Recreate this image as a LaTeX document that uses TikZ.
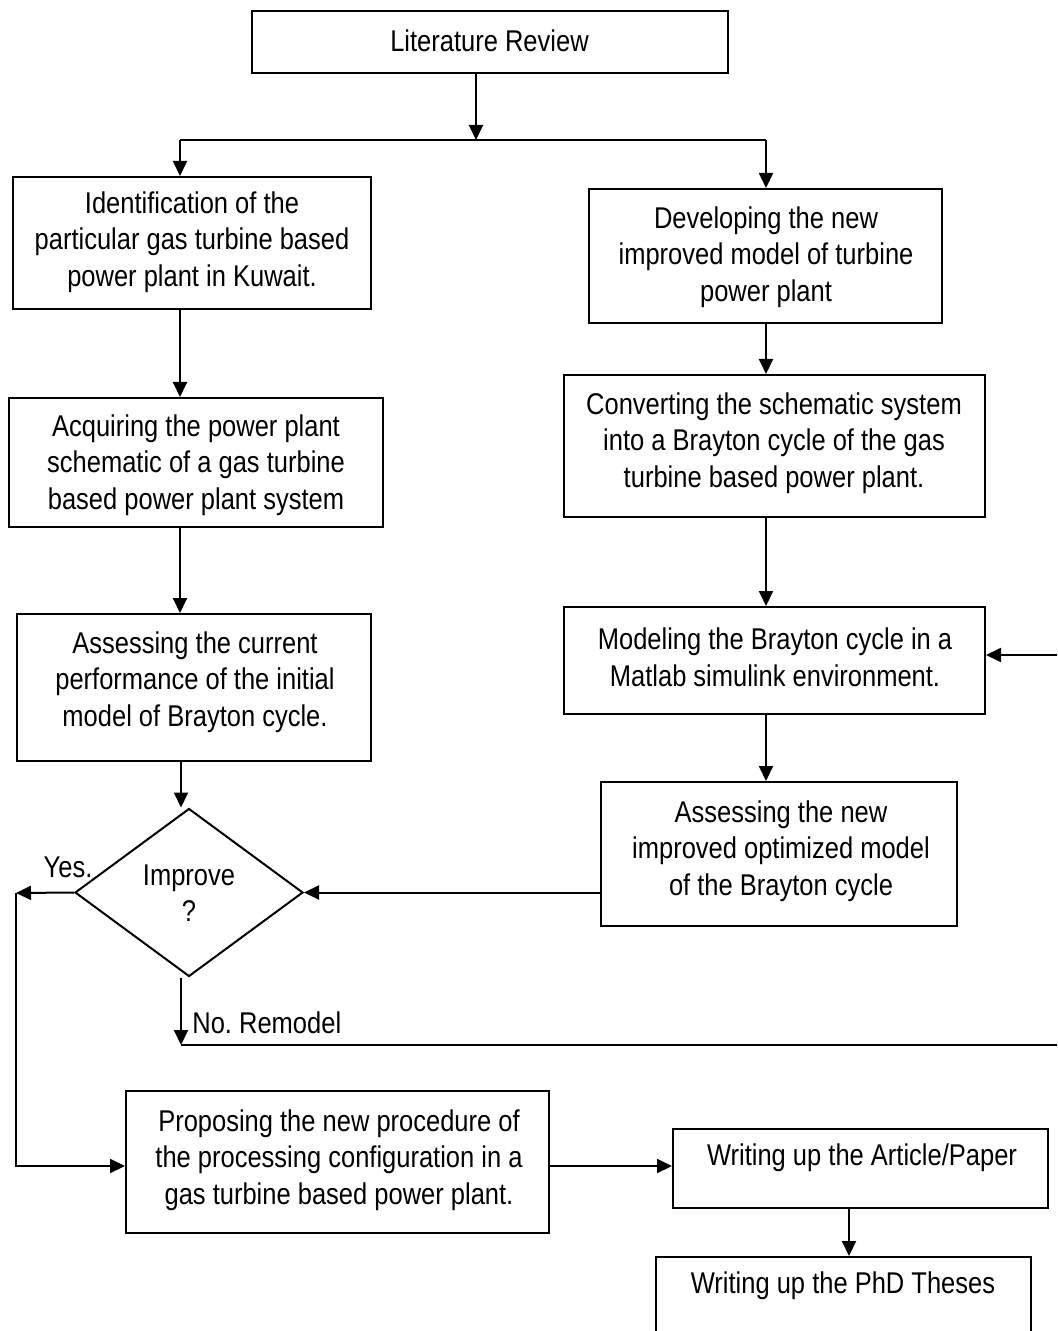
\documentclass[tikz,border=0pt]{standalone}
\usepackage{fontspec}
\setmainfont[FakeStretch=0.85]{Liberation Sans}
\usetikzlibrary{arrows.meta,shapes.geometric,calc}
\frenchspacing
\tikzset{
  box/.style={draw=black, line width=1pt, rectangle, inner sep=0pt},
  txt/.style={align=center, inner sep=0pt, yshift=-1.5pt, font=\frenchspacing\fontsize{15pt}{18.3pt}\selectfont},
  arr/.style={line width=1pt, -{Triangle[length=7.5pt,width=7pt]}},
  ln/.style={line width=1pt}
}
\begin{document}
\begin{tikzpicture}[x=0.5pt, y=-0.5pt]
\useasboundingbox (0,0) rectangle (1057,1331);
\fill[white] (0,0) rectangle (1057,1331);
\clip (0,0) rectangle (1057,1331);

% boxes
\node[box, minimum width=238pt, minimum height=31pt] (lit) at (490,42) {};
\node[box, minimum width=179pt, minimum height=66pt] (id) at (192,243) {};
\node[box, minimum width=176.5pt, minimum height=67pt] (dev) at (765.5,256) {};
\node[box, minimum width=187pt, minimum height=64.5pt] (acq) at (196,462.5) {};
\node[box, minimum width=177pt, minimum height=73.5pt] (asc) at (194,687.5) {};
\node[box, minimum width=210.5pt, minimum height=71pt] (conv) at (774.5,446) {};
\node[box, minimum width=210.5pt, minimum height=53.5pt] (mod) at (774.5,660.5) {};
\node[box, minimum width=178pt, minimum height=72pt] (ass) at (779,854) {};
\node[draw=black, line width=1pt, diamond, inner sep=0pt, minimum width=114pt, minimum height=84pt] (dia) at (189,892.5) {};
\node[box, minimum width=211.5pt, minimum height=71pt] (prop) at (337.5,1162) {};
\node[box, minimum width=187.5pt, minimum height=39.5pt] (w1) at (860.5,1168.5) {};
\node[box, minimum width=187.5pt, minimum height=50pt] (w2) at (843.5,1307) {};

% texts
\node[txt] (litT) at (489.5,38) {Literature Review};
\node[txt] (idT) at (192,239) {Identification of the\\particular gas turbine based\\power plant in Kuwait.};
\node[txt] (devT) at (766,254) {Developing the new\\improved model of turbine\\power plant};
\node[txt] (acqT) at (196,462) {Acquiring the power plant\\schematic of a gas turbine\\based power plant system};
\node[txt] (ascT) at (195,679) {Assessing the current\\performance of the initial\\model of Brayton cycle.};
\node[txt] (convT) at (774,440) {Converting the schematic system\\into a Brayton cycle of the gas\\turbine based power plant.};
\node[txt] (modT) at (775,654) {Modeling the Brayton cycle in a\\Matlab simulink environment.};
\node[txt] (assT) at (781,848) {Assessing the new\\improved optimized model\\of the Brayton cycle};
\node[txt] (diaT) at (189,890) {Improve\\?};
\node[txt] (propT) at (339,1157) {Proposing the new procedure of\\the processing configuration in a\\gas turbine based power plant.};
\node[txt] (w1T) at (862,1155) {Writing up the Article/Paper};
\node[txt] (w2T) at (843,1283) {Writing up the PhD Theses};
\node[txt] (yes) at (68,864) {Yes.};
\node[txt, anchor=west] (no) at (192,1020) {No. Remodel};

% coordinates
\coordinate (split) at (476,140);
\coordinate (jl) at (180,140);
\coordinate (jr) at (766,140);
\coordinate (loopA) at (181,1045);
\coordinate (loopB) at (1070,1045);
\coordinate (loopC) at (1070,655);
\coordinate (yl) at (16,893);
\coordinate (yb) at (16,1166);
\coordinate (wc) at (849,0);

% connectors
\draw[arr] (lit.south -| split) -- (split);
\draw[ln] (jl) -- (jr);
\draw[arr] (jl) -- (jl |- id.north);
\draw[arr] (jr) -- (jr |- dev.north);
\draw[arr] (jl |- id.south) -- (jl |- acq.north);
\draw[arr] (jl |- acq.south) -- (jl |- asc.north);
\draw[arr] (loopA |- asc.south) -- (loopA |- dia.north);
\draw[arr] (jr |- dev.south) -- (jr |- conv.north);
\draw[arr] (jr |- conv.south) -- (jr |- mod.north);
\draw[arr] (jr |- mod.south) -- (jr |- ass.north);
\draw[arr] (ass.west |- dia.east) -- (dia.east);
\draw[arr] (loopA |- dia.south) -- (loopA);
\draw[arr] (loopA) -- (loopB) -- (loopC) -- (mod.east |- loopC);
\draw[arr] (dia.west) -- (yl);
\draw[arr] (yl) -- (yb) -- (prop.west |- yb);
\draw[arr] (prop.east |- yb) -- (w1.west |- yb);
\draw[arr] (w1.south -| wc) -- (w2.north -| wc);
\end{tikzpicture}
\end{document}
